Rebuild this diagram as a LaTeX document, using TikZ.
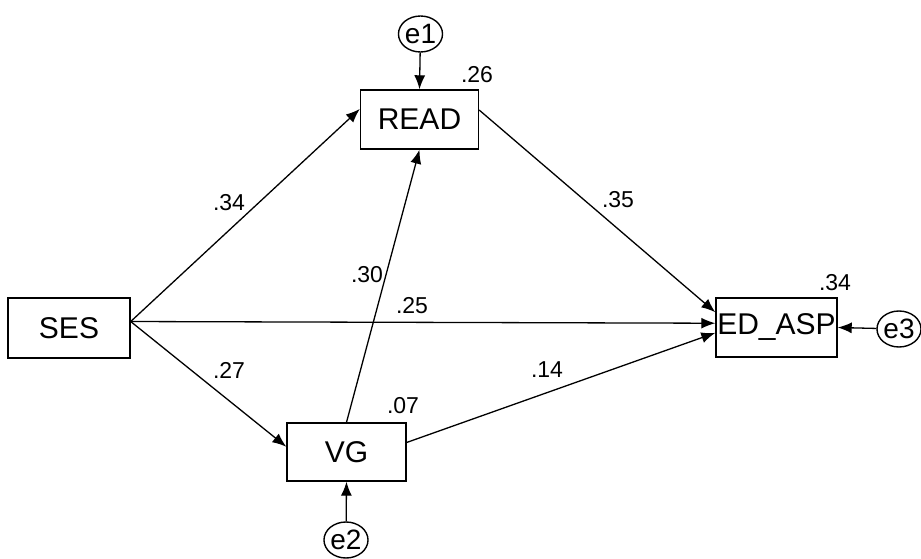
\documentclass[tikz,border=0pt]{standalone}
\usepackage{fontspec}
\setmainfont{Liberation Sans}
\usetikzlibrary{shapes.geometric,arrows.meta}
\begin{document}
\begin{tikzpicture}[x=1pt,y=-1pt,
  varbox/.style={draw,line width=1.4pt,rectangle,inner sep=0pt,font=\fontsize{30}{31}\selectfont},
  errnode/.style={draw,line width=1.4pt,ellipse,inner sep=0pt,minimum width=41pt,minimum height=36pt,font=\fontsize{28}{29}\selectfont},
  coef/.style={font=\fontsize{23}{24}\selectfont,inner sep=0pt},
  path/.style={line width=1.3pt,-{Latex[length=14pt,width=11pt]}}]
\useasboundingbox (0,0) rectangle (921,559);
\node[varbox,minimum width=122pt,minimum height=60pt] (SES) at (69,328) {SES};
\node[varbox,minimum width=118pt,minimum height=59pt] (READ) at (419.5,119.5) {READ};
\node[varbox,minimum width=119pt,minimum height=58pt] (VG) at (346.5,452) {VG};
\node[varbox,minimum width=121pt,minimum height=59pt] (ED) at (776.5,327.5) {ED\_ASP};
\node[errnode] (e1) at (420.5,34) {e1};
\node[errnode] (e2) at (346,540) {e2};
\node[errnode,minimum width=42pt] (e3) at (899,329) {e3};
\draw[path] (e1) -- (READ.north);
\draw[path] (e2) -- (VG.south);
\draw[path] (e3) -- (ED.east);
\draw[path] (SES.6) -- (READ.170);
\draw[path] (SES.6) -- (VG.175);
\draw[path] (SES.6) -- (ED.176);
\draw[path] (VG.north) -- (READ.south);
\draw[path] (READ.9) -- (ED.166);
\draw[path] (VG.9) -- (ED.185);
\node[coef] (l26) at (477,75) {.26};
\node[coef] (l34a) at (229,203) {.34};
\node[coef] (l30) at (367,275) {.30};
\node[coef] (l25) at (412,306) {.25};
\node[coef] (l27) at (229,370) {.27};
\node[coef] (l35) at (618,200) {.35};
\node[coef] (l14) at (547,370) {.14};
\node[coef] (l34b) at (835,283) {.34};
\node[coef] (l07) at (403,406) {.07};
\end{tikzpicture}
\end{document}
